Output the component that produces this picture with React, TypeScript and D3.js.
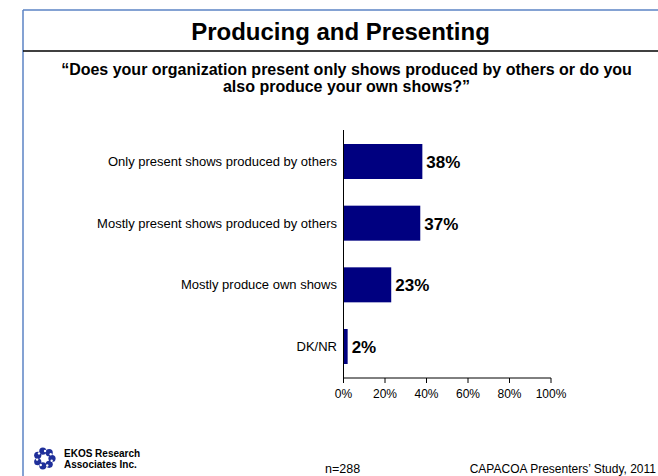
import React from "react";
import * as d3 from "d3";

const categories = [
  "Only present shows produced by others",
  "Mostly present shows produced by others",
  "Mostly produce own shows",
  "DK/NR",
];
const values = [38, 37, 23, 2];
const xTicks = [0, 20, 40, 60, 80, 100];

const titleText = "Producing and Presenting";
const subtitleLines = [
  "\u201CDoes your organization present only shows produced by others or do you",
  "also produce your own shows?\u201D",
];
const footerN = "n=288";
const footerSource = "CAPACOA Presenters\u2019 Study, 2011";
const logoLines = ["EKOS Research", "Associates Inc."];

const W = 658;
const H = 476;
const FONT = "'Liberation Sans', Arial, Helvetica, sans-serif";
const NAVY = "#000080";
const FRAME_BLUE = "#5b83c4";

export default function App() {
  const x = d3.scaleLinear().domain([0, 100]).range([343.5, 551]);
  const y = d3
    .scaleBand<string>()
    .domain(categories)
    .range([130, 378])
    .paddingInner(0.4325)
    .paddingOuter(0.227);

  const logoCx = 44.5;
  const logoCy = 458.5;
  const petals = d3.range(7).map((i) => (i / 7) * Math.PI * 2);

  return (
    <svg
      width={W}
      height={H}
      style={{ position: "absolute", left: 0, top: 0, background: "#fff" }}
      fontFamily={FONT}
    >
      <rect x={0} y={0} width={W} height={H} fill="#fff" />
      {/* frame */}
      <line x1={23} y1={10} x2={W} y2={10} stroke={FRAME_BLUE} strokeWidth={1.5} />
      <line x1={23} y1={10} x2={23} y2={H} stroke={FRAME_BLUE} strokeWidth={1.5} />
      <line x1={23} y1={51} x2={W} y2={51} stroke="#000" strokeWidth={1.5} />

      {/* title */}
      <text x={340.5} y={40} textAnchor="middle" fontSize={24} fontWeight="bold" fill="#000">
        {titleText}
      </text>
      {subtitleLines.map((s, i) => (
        <text
          key={i}
          x={346.5}
          y={75 + i * 17}
          textAnchor="middle"
          fontSize={16}
          fontWeight="bold"
          fill="#000"
        >
          {s}
        </text>
      ))}

      {/* bars */}
      {categories.map((c, i) => {
        const yy = y(c)!;
        const bw = y.bandwidth();
        return (
          <g key={c}>
            <rect x={x(0)} y={yy} width={x(values[i]) - x(0)} height={bw} fill={NAVY} />
            <text
              x={x(values[i]) + 4}
              y={yy + bw / 2 + 6.5}
              fontSize={17}
              fontWeight="bold"
              fill="#000"
            >
              {values[i]}%
            </text>
            <text
              x={337}
              y={yy + bw / 2 + 4.5}
              textAnchor="end"
              fontSize={13}
              fill="#000"
            >
              {c}
            </text>
          </g>
        );
      })}

      {/* axes */}
      <line x1={x(0)} y1={130} x2={x(0)} y2={378} stroke="#000" strokeWidth={1} />
      <line x1={x(0)} y1={378} x2={x(100)} y2={378} stroke="#000" strokeWidth={1} />
      {xTicks.map((t) => (
        <g key={t}>
          <line x1={x(t)} y1={378} x2={x(t)} y2={383} stroke="#000" strokeWidth={1} />
          <text x={x(t)} y={398} textAnchor="middle" fontSize={12} fill="#000">
            {t}%
          </text>
        </g>
      ))}

      {/* footer */}
      <g>
        {petals.map((a, i) => (
          <circle
            key={i}
            cx={logoCx + Math.cos(a) * 7.5}
            cy={logoCy + Math.sin(a) * 7.5}
            r={3.6}
            fill="#1f2f9a"
          />
        ))}
        {petals.map((a, i) => (
          <circle
            key={"w" + i}
            cx={logoCx + Math.cos(a + 0.3) * 7.5}
            cy={logoCy + Math.sin(a + 0.3) * 7.5}
            r={1.2}
            fill="#fff"
          />
        ))}
      </g>
      {logoLines.map((l, i) => (
        <text key={l} x={64} y={457 + i * 11} fontSize={10} fontWeight="bold" fill="#000">
          {l}
        </text>
      ))}
      <text x={325} y={473} fontSize={12.5} fill="#000">
        {footerN}
      </text>
      <text x={656} y={473} textAnchor="end" fontSize={12} fill="#000">
        {footerSource}
      </text>
    </svg>
  );
}
